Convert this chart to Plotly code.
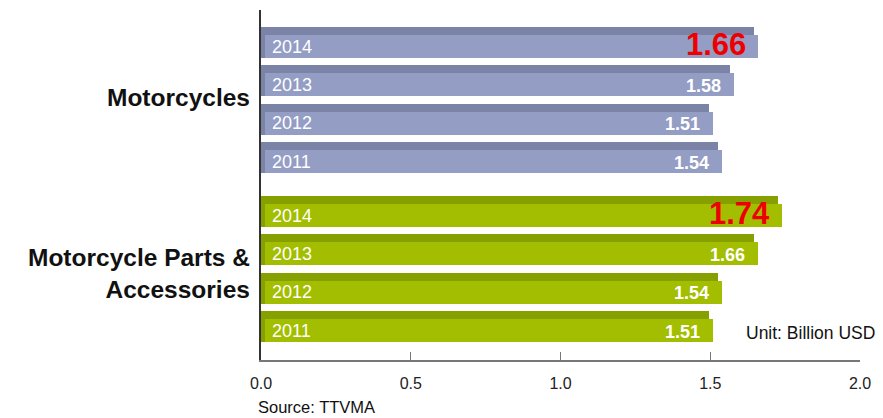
import plotly.graph_objects as go

# ---- data ----
groups = ["Motorcycles", "Motorcycle Parts &<br>Accessories"]
years = ["2014", "2013", "2012", "2011"]
motorcycles = [1.66, 1.58, 1.51, 1.54]
parts = [1.74, 1.66, 1.54, 1.51]
x_ticks = [0.0, 0.5, 1.0, 1.5, 2.0]
tick_labels = ["0.0", "0.5", "1.0", "1.5", "2.0"]
unit_text = "Unit: Billion USD"
source_text = "Source: TTVMA"

series = [motorcycles, parts]
face_colors = ["#949DC4", "#A3BE00"]
top_colors = ["#7B84A6", "#86A000"]

FONT = "Arial, Liberation Sans, Helvetica, sans-serif"
GROUP_GAP = 0.41
FULL_W = 0.81
FACE_W = 0.60
FACE_OFF = (FULL_W - FACE_W) / 2

# page body adds an 8px offset; layout is compensated for it
W, H = 875, 410
L, R, T, B = 253, 23, 2, 58
PW, PH = W - L - R, H - T - B

fig = go.Figure()
annotations = []

for g, vals in enumerate(series):
    pos = [g * (len(years) + GROUP_GAP) + i for i in range(len(years))]
    # dark top / side of the 3D bar
    fig.add_trace(go.Bar(
        y=pos, x=[v - 0.006 for v in vals], base=-0.007, orientation="h",
        width=FULL_W, marker=dict(color=top_colors[g], line=dict(width=0)),
        hoverinfo="skip", showlegend=False))
    # front face
    fig.add_trace(go.Bar(
        y=[p + FACE_OFF for p in pos], x=[v - 0.012 for v in vals], base=0.012,
        orientation="h", width=FACE_W,
        marker=dict(color=face_colors[g], line=dict(width=0)),
        hoverinfo="skip", showlegend=False))
    for i, (yr, v, p) in enumerate(zip(years, vals, pos)):
        annotations.append(dict(
            x=0.03, y=p + FACE_OFF, xref="x", yref="y", text=yr,
            xanchor="left", yanchor="middle", showarrow=False,
            font=dict(family=FONT, size=18, color="white")))
        first = i == 0
        annotations.append(dict(
            x=v, y=p + FACE_OFF, xref="x", yref="y", text=f"<b>{v:.2f}</b>",
            xanchor="right", yanchor="middle", showarrow=False,
            xshift=-10 if first else -11, yshift=2 if first else -1,
            font=dict(family=FONT, size=31 if first else 18,
                      color="#EE0000" if first else "white")))
    center = (pos[0] + pos[-1]) / 2
    annotations.append(dict(
        x=0, y=center, xref="x", yref="y", text=f"<b>{groups[g]}</b>",
        xanchor="right", yanchor="middle", align="right", showarrow=False,
        xshift=-9, yshift=3 if g == 0 else -4,
        font=dict(family=FONT, size=24.5, color="#111111")))

annotations.append(dict(
    x=(736 - L) / PW, y=(352 - 325) / PH, xref="paper", yref="paper",
    text=unit_text, xanchor="left", yanchor="middle", showarrow=False,
    font=dict(family=FONT, size=17.5, color="#111111")))
annotations.append(dict(
    x=(248 - L) / PW, y=(352 - 399) / PH, xref="paper", yref="paper",
    text=source_text, xanchor="left", yanchor="middle", showarrow=False,
    font=dict(family=FONT, size=16.5, color="#111111")))

fig.update_layout(
    width=W, height=H,
    margin=dict(l=L, r=R, t=T, b=B),
    paper_bgcolor="white", plot_bgcolor="white",
    barmode="overlay", bargap=0,
    annotations=annotations,
    xaxis=dict(range=[0, 2], tickvals=x_ticks, ticktext=tick_labels,
               showgrid=False, zeroline=False, showline=True,
               linecolor="#777777", linewidth=1.5,
               ticks="inside", ticklen=8, tickcolor="#777777", tickwidth=1,
               ticklabelstandoff=8,
               tickfont=dict(family=FONT, size=16, color="#222222")),
    yaxis=dict(range=[8.283, -0.848], showgrid=False, zeroline=False,
               showline=True, linecolor="#333333", linewidth=1.5,
               showticklabels=False, ticks=""),
)

fig.write_html("out.html")
